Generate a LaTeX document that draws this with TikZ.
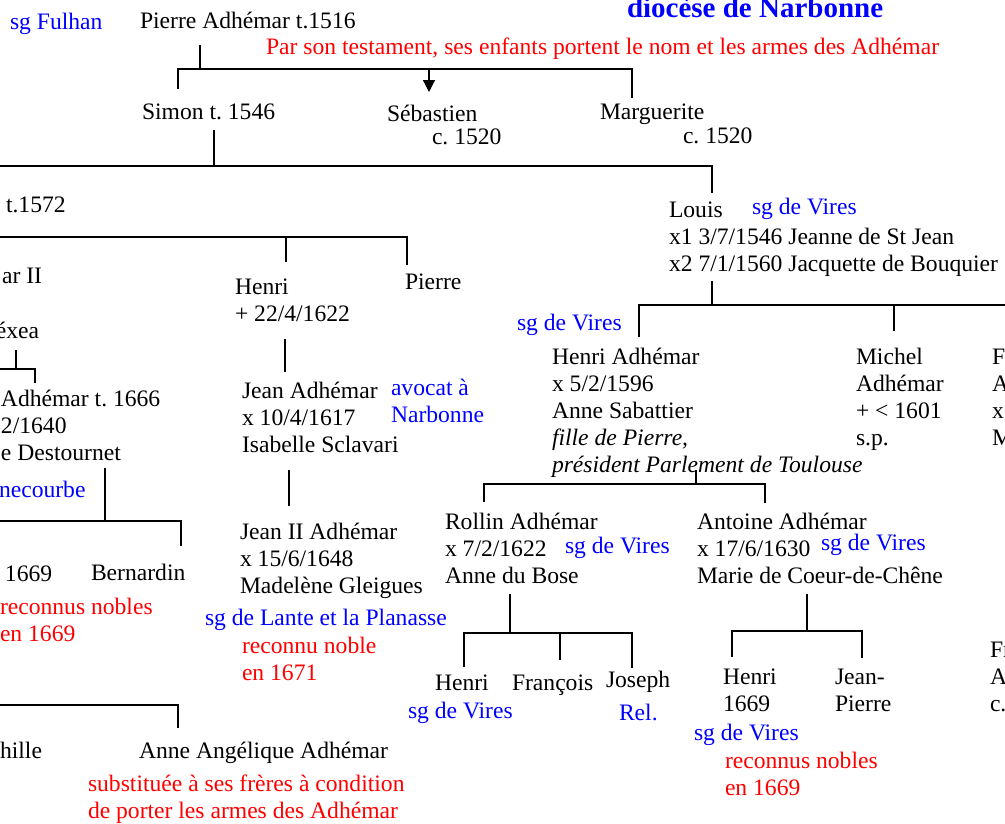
\documentclass[tikz,border=0pt]{standalone}
\usepackage{fontspec}
\setmainfont{Liberation Serif}
\usetikzlibrary{arrows.meta}
\definecolor{sgblue}{RGB}{0,0,255}
\definecolor{notered}{RGB}{255,0,0}
\frenchspacing

\begin{document}
\begin{tikzpicture}[x=1pt,y=-1pt,
    line width=1.2pt,
    every node/.style={inner sep=0pt,outer sep=0pt,anchor=base west,align=left,
      font=\fontsize{23.6}{27}\selectfont},
    sg/.style={text=sgblue},
    note/.style={text=notered},
    titre/.style={text=sgblue,font=\fontsize{29}{33}\selectfont\bfseries}]
    \useasboundingbox (0,0) rectangle (1005,823);
    \clip (0,0) rectangle (1005,823);
    % (multi-line nodes are placed at the baseline of their last line)

    % generation 1
    \node [titre] (diocese) at (627,17) {diocèse de Narbonne};
    \node [sg] (fulhan) at (10,29) {sg Fulhan};
    \node (pierre) at (140,28) {Pierre Adhémar t.1516};
    \node [note] (testament) at (266,54) {Par son testament, ses enfants portent le nom et les armes des Adhémar};

    % generation 2
    \node (simon) at (142,119) {Simon t. 1546};
    \node (sebastien) at (387,121) {Sébastien};
    \node (sebdate) at (432,144) {c. 1520};
    \node (marguerite) at (600,119) {Marguerite};
    \node (margdate) at (683,143) {c. 1520};

    % generation 3
    \node (t1572) at (6,212) {t.1572};
    \node (louis) at (669,271) {Louis\\x1 3/7/1546 Jeanne de St Jean\\x2 7/1/1560 Jacquette de Bouquier};
    \node [sg] (louissg) at (752,214) {sg de Vires};

    % generation 4
    \node [anchor=base east] (marII) at (42,283) {ar II};
    \node [anchor=base east] (exea) at (39,338) {éxea};
    \node (henri) at (235,321) {Henri\\+ 22/4/1622};
    \node (pierreb) at (405,289) {Pierre};
    \node [sg] (henriadhsg) at (517,330) {sg de Vires};
    \node (henriadh) at (552,472) {Henri Adhémar\\x 5/2/1596\\Anne Sabattier\\\textit{fille de Pierre,}\\\textit{président Parlement de Toulouse}};
    \node (michel) at (856,445) {Michel\\Adhémar\\+ < 1601\\s.p.};
    \node (fcut) at (992,445) {F\\A\\x\\M};

    % generation 5
    \node (adh1666) at (1,460) {Adhémar t. 1666\\2/1640\\e Destournet};
    \node [sg] (necourbe) at (-1,497) {necourbe};
    \node (jean) at (242,452) {Jean Adhémar\\x 10/4/1617\\Isabelle Sclavari};
    \node [sg] (avocat) at (391,422) {avocat à\\Narbonne};
    \node (rollin) at (445,583) {Rollin Adhémar\\x 7/2/1622\\Anne du Bose};
    \node [sg] (rollinsg) at (565,553) {sg de Vires};
    \node (antoine) at (697,583) {Antoine Adhémar\\x 17/6/1630\\Marie de Coeur-de-Chêne};
    \node [sg] (antoinesg) at (821,550) {sg de Vires};

    % generation 6
    \node (n1669) at (5,581) {1669};
    \node (bernardin) at (91,580) {Bernardin};
    \node [note] (nobles) at (0,641) {reconnus nobles\\en 1669};
    \node (jeanII) at (240,593) {Jean II Adhémar\\x 15/6/1648\\Madelène Gleigues};
    \node [sg] (lante) at (205,625) {sg de Lante et la Planasse};
    \node [note] (noble1671) at (242,680) {reconnu noble\\en 1671};
    \node (henric) at (435,690) {Henri};
    \node (francois) at (512,690) {François};
    \node (joseph) at (606,687) {Joseph};
    \node [sg] (henricsg) at (408,718) {sg de Vires};
    \node [sg] (rel) at (619,720) {Rel.};
    \node (henrid) at (723,711) {Henri\\1669};
    \node (jeanpierre) at (835,711) {Jean-\\Pierre};
    \node [sg] (henridsg) at (694,740) {sg de Vires};
    \node [note] (nobles2) at (725,795) {reconnus nobles\\en 1669};
    \node (frcut) at (990,711) {Fr\\A\\c.};

    % generation 7
    \node [anchor=base east] (hille) at (42,758) {hille};
    \node (angelique) at (139,758) {Anne Angélique Adhémar};
    \node [note] (substituee) at (88,818) {substituée à ses frères à condition\\de porter les armes des Adhémar};

    % bracket points
    \coordinate (pierre-d) at (200,45);
    \coordinate (bar1-l) at (178,69);
    \coordinate (bar1-r) at (632,69);
    \coordinate (simon-u) at (178,89);
    \coordinate (marg-u) at (632,98);
    \coordinate (seb-u) at (429,92);
    \coordinate (simon-d) at (214,130);
    \coordinate (bar2-l) at (0,166);
    \coordinate (bar2-r) at (712,166);
    \coordinate (louis-u) at (712,193);
    \coordinate (bar3-l) at (0,237);
    \coordinate (bar3-r) at (407,237);
    \coordinate (pierreb-u) at (407,265);
    \coordinate (henri-u) at (286,262);
    \coordinate (exea-d) at (16,350);
    \coordinate (bar4-l) at (0,369);
    \coordinate (bar4-r) at (35,369);
    \coordinate (adh1666-u) at (35,383);
    \coordinate (henri-d) at (285,339);
    \coordinate (jean-u) at (285,372);
    \coordinate (jean-d) at (289,470);
    \coordinate (jeanII-u) at (289,506);
    \coordinate (adh1666-d) at (105,468);
    \coordinate (bar5-l) at (0,521);
    \coordinate (bar5-r) at (181,521);
    \coordinate (bernardin-u) at (181,546);
    \coordinate (bar6-l) at (0,705);
    \coordinate (bar6-r) at (178,705);
    \coordinate (angelique-u) at (178,728);
    \coordinate (louis-d) at (712,281);
    \coordinate (bar7-l) at (639,305);
    \coordinate (bar7-r) at (1005,305);
    \coordinate (henriadh-u) at (639,337);
    \coordinate (michel-u) at (894,331);
    \coordinate (henriadh-d) at (696,470);
    \coordinate (bar8-l) at (484,484);
    \coordinate (bar8-r) at (765,484);
    \coordinate (rollin-u) at (484,502);
    \coordinate (antoine-u) at (765,503);
    \coordinate (rollin-d) at (510,594);
    \coordinate (bar9-l) at (464,633);
    \coordinate (bar9-r) at (632,633);
    \coordinate (henric-u) at (464,667);
    \coordinate (francois-u) at (560,660);
    \coordinate (joseph-u) at (632,668);
    \coordinate (antoine-d) at (807,594);
    \coordinate (bar10-l) at (732,631);
    \coordinate (bar10-r) at (862,631);
    \coordinate (henrid-u) at (732,657);
    \coordinate (jeanpierre-u) at (862,658);

    % lines
    \draw (pierre-d) -- (pierre-d |- bar1-l);
    \draw (simon-u) -- (bar1-l) -- (bar1-r) -- (marg-u);
    \draw [-{Triangle[length=12pt,width=12pt]}] (seb-u |- bar1-l) -- (seb-u);
    \draw (simon-d) -- (simon-d |- bar2-l);
    \draw (bar2-l) -- (bar2-r) -- (louis-u);
    \draw (bar3-l) -- (bar3-r) -- (pierreb-u);
    \draw (henri-u |- bar3-l) -- (henri-u);
    \draw (exea-d) -- (exea-d |- bar4-l);
    \draw (bar4-l) -- (bar4-r) -- (adh1666-u);
    \draw (henri-d) -- (jean-u);
    \draw (jean-d) -- (jeanII-u);
    \draw (adh1666-d) -- (adh1666-d |- bar5-l);
    \draw (bar5-l) -- (bar5-r) -- (bernardin-u);
    \draw (bar6-l) -- (bar6-r) -- (angelique-u);
    \draw (louis-d) -- (louis-d |- bar7-l);
    \draw (henriadh-u) -- (bar7-l) -- (bar7-r);
    \draw (michel-u |- bar7-l) -- (michel-u);
    \draw (henriadh-d) -- (henriadh-d |- bar8-l);
    \draw (rollin-u) -- (bar8-l) -- (bar8-r) -- (antoine-u);
    \draw (rollin-d) -- (rollin-d |- bar9-l);
    \draw (henric-u) -- (bar9-l) -- (bar9-r) -- (joseph-u);
    \draw (francois-u |- bar9-l) -- (francois-u);
    \draw (antoine-d) -- (antoine-d |- bar10-l);
    \draw (henrid-u) -- (bar10-l) -- (bar10-r) -- (jeanpierre-u);
\end{tikzpicture}
\end{document}
